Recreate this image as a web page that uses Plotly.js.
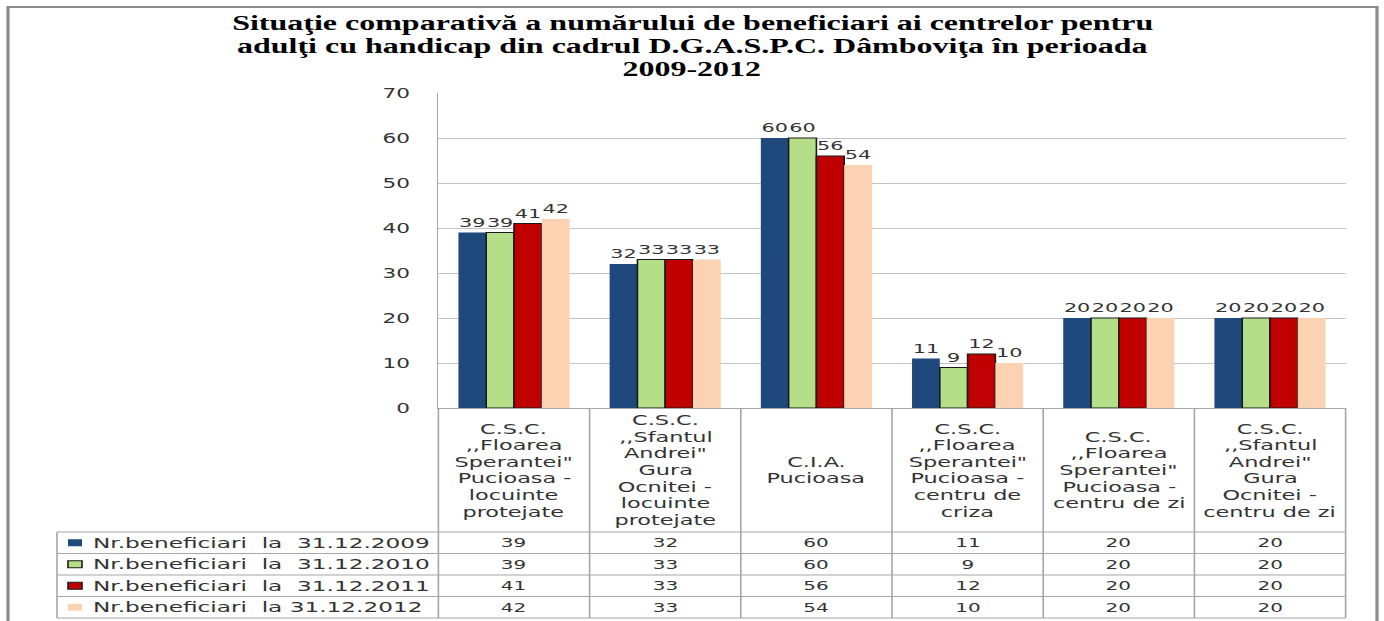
<!DOCTYPE html>
<html>
<head>
<meta charset="utf-8">
<script src="https://cdn.plot.ly/plotly-3.0.1.min.js"></script>
<style>
  html, body { margin: 0; padding: 0; background: #ffffff; overflow: hidden; }
  #wrap { width: 865px; height: 621px; transform: scaleX(1.6); transform-origin: 0 0; }
  #chart { width: 865px; height: 621px; }
</style>
</head>
<body>
<div id="wrap"><div id="chart"></div></div>
<script>
// ---------------- data ----------------
const categories = [
  'C.S.C. ,,Floarea Sperantei" Pucioasa - locuinte protejate',
  'C.S.C. ,,Sfantul Andrei" Gura Ocnitei - locuinte protejate',
  'C.I.A. Pucioasa',
  'C.S.C. ,,Floarea Sperantei" Pucioasa - centru de criza',
  'C.S.C. ,,Floarea Sperantei" Pucioasa - centru de zi',
  'C.S.C. ,,Sfantul Andrei" Gura Ocnitei - centru de zi'
];
const categoryLines = [
  ['C.S.C.', ',,Floarea', 'Sperantei"', 'Pucioasa -', 'locuinte', 'protejate'],
  ['C.S.C.', ',,Sfantul', 'Andrei"', 'Gura', 'Ocnitei -', 'locuinte', 'protejate'],
  ['C.I.A.', 'Pucioasa'],
  ['C.S.C.', ',,Floarea', 'Sperantei"', 'Pucioasa -', 'centru de', 'criza'],
  ['C.S.C.', ',,Floarea', 'Sperantei"', 'Pucioasa -', 'centru de zi'],
  ['C.S.C.', ',,Sfantul', 'Andrei"', 'Gura', 'Ocnitei -', 'centru de zi']
];
const seriesNames = [
  'Nr.beneficiari\u00A0\u00A0la\u00A0\u00A031.12.2009',
  'Nr.beneficiari\u00A0\u00A0la\u00A0\u00A031.12.2010',
  'Nr.beneficiari\u00A0\u00A0la\u00A0\u00A031.12.2011',
  'Nr.beneficiari\u00A0\u00A0la 31.12.2012'
];
const values2009 = [39, 32, 60, 11, 20, 20];
const values2010 = [39, 33, 60, 9, 20, 20];
const values2011 = [41, 33, 56, 12, 20, 20];
const values2012 = [42, 33, 54, 10, 20, 20];
const seriesValues = [values2009, values2010, values2011, values2012];
const seriesColors = ['#1F497D', '#B5DE88', '#C00000', '#FBD3B3'];
const seriesOutline = [0, 1, 1, 0];
const titleLines = [
  'Situaţie comparativă a numărului de beneficiari ai centrelor pentru',
  'adulţi cu handicap din cadrul D.G.A.S.P.C. Dâmboviţa în perioada',
  '2009-2012'
];
const yTicks = [0, 10, 20, 30, 40, 50, 60, 70];

// ---------------- geometry (page is stretched horizontally by S) ----------------
const S = 1.6, W = 865, H = 621;
const ML = 274, MR = 24, MT = 93, MB = 213;
const PW = W - ML - MR, PH = H - MT - MB;
const px = xr => (xr / S - ML) / PW;     // reference pixel x -> paper x
const py = yr => 1 - (yr - MT) / PH;     // reference pixel y -> paper y
const rowBounds = [532, 553.5, 575, 596.5, 618];
const headerTop = 408, headerBottom = 532;
const tableLeft = 57;
const lineCol = '#a6a6a6';
const textCol = '#333333';
const sans = 'DejaVu Sans, Verdana, sans-serif';

// ---------------- traces ----------------
const traces = seriesValues.map((vals, i) => ({
  type: 'bar',
  name: seriesNames[i],
  x: categories,
  y: vals,
  text: vals.map(String),
  textposition: 'outside',
  constraintext: 'none',
  cliponaxis: false,
  textfont: { family: sans, size: 13, color: textCol },
  marker: { color: seriesColors[i], line: { width: seriesOutline[i], color: '#1a1a1a' } },
  hoverinfo: 'skip',
  showlegend: false
}));

// ---------------- annotations ----------------
const annotations = [];
titleLines.forEach((t, k) => {
  annotations.push({
    xref: 'paper', yref: 'paper', x: px(692), y: py(24 + k * 22.3),
    xanchor: 'center', yanchor: 'middle', showarrow: false, text: '<b>' + t + '</b>',
    font: { family: 'Liberation Serif, Times New Roman, serif', size: 20, color: '#000' }
  });
});
const headerMid = (headerTop + headerBottom) / 2;
const lineStep = 16.6;
categoryLines.forEach((lines, j) => {
  lines.forEach((ln, k) => {
    annotations.push({
      xref: 'x', yref: 'paper', x: categories[j],
      y: py(headerMid + (k - (lines.length - 1) / 2) * lineStep),
      xanchor: 'center', yanchor: 'middle', showarrow: false, text: ln,
      font: { family: sans, size: 14, color: textCol }
    });
  });
});
seriesValues.forEach((vals, i) => {
  const yc = (rowBounds[i] + rowBounds[i + 1]) / 2;
  annotations.push({
    xref: 'paper', yref: 'paper', x: px(90), y: py(yc),
    xanchor: 'left', yanchor: 'middle', showarrow: false, text: seriesNames[i],
    font: { family: sans, size: 14.5, color: textCol }
  });
  vals.forEach((v, j) => {
    annotations.push({
      xref: 'x', yref: 'paper', x: categories[j], y: py(yc),
      xanchor: 'center', yanchor: 'middle', showarrow: false, text: String(v),
      font: { family: sans, size: 12.5, color: textCol }
    });
  });
});

// ---------------- shapes (table grid, legend keys, frame) ----------------
const shapes = [];
const nCat = categories.length;
for (let k = 0; k <= nCat; k++) {
  shapes.push({ type: 'line', xref: 'paper', yref: 'paper', x0: k / nCat, x1: k / nCat,
    y0: py(headerTop), y1: py(rowBounds[rowBounds.length - 1]), line: { color: lineCol, width: 1 } });
}
rowBounds.forEach(yb => {
  shapes.push({ type: 'line', xref: 'paper', yref: 'paper', x0: px(tableLeft), x1: 1,
    y0: py(yb), y1: py(yb), line: { color: lineCol, width: 1 } });
});
shapes.push({ type: 'line', xref: 'paper', yref: 'paper', x0: px(tableLeft), x1: px(tableLeft),
  y0: py(rowBounds[0]), y1: py(rowBounds[rowBounds.length - 1]), line: { color: lineCol, width: 1 } });
seriesColors.forEach((c, i) => {
  const yc = (rowBounds[i] + rowBounds[i + 1]) / 2;
  shapes.push({ type: 'rect', xref: 'paper', yref: 'paper', x0: px(68), x1: px(82),
    y0: py(yc + 3.5), y1: py(yc - 3.5), fillcolor: c,
    line: { width: seriesOutline[i], color: '#1a1a1a' } });
});
// outer frame
shapes.push({ type: 'path', xref: 'paper', yref: 'paper',
  path: `M ${px(8)} ${py(640)} L ${px(8)} ${py(7)} L ${px(1377)} ${py(7)} L ${px(1377)} ${py(640)}`,
  line: { color: '#8c8c8c', width: 2 } });

// ---------------- layout ----------------
const layout = {
  width: W, height: H,
  margin: { l: ML, r: MR, t: MT, b: MB, pad: 0 },
  paper_bgcolor: '#ffffff', plot_bgcolor: '#ffffff',
  barmode: 'group', bargap: 0.265, bargroupgap: 0,
  showlegend: false,
  xaxis: { type: 'category', range: [-0.5, nCat - 0.5], showticklabels: false, ticks: '',
    showgrid: false, showline: true, linecolor: lineCol, linewidth: 1, zeroline: false, fixedrange: true },
  yaxis: { range: [0, 70], tickvals: yTicks, ticks: '', showgrid: true, gridcolor: '#c4c4c4', gridwidth: 1,
    showline: true, linecolor: lineCol, linewidth: 1, zeroline: false, ticklabelstandoff: 14,
    tickfont: { family: sans, size: 13.5, color: textCol }, fixedrange: true },
  annotations: annotations,
  shapes: shapes,
  font: { family: sans, color: textCol }
};

Plotly.newPlot('chart', traces, layout, { displayModeBar: false, responsive: false, staticPlot: true });
</script>
</body>
</html>
